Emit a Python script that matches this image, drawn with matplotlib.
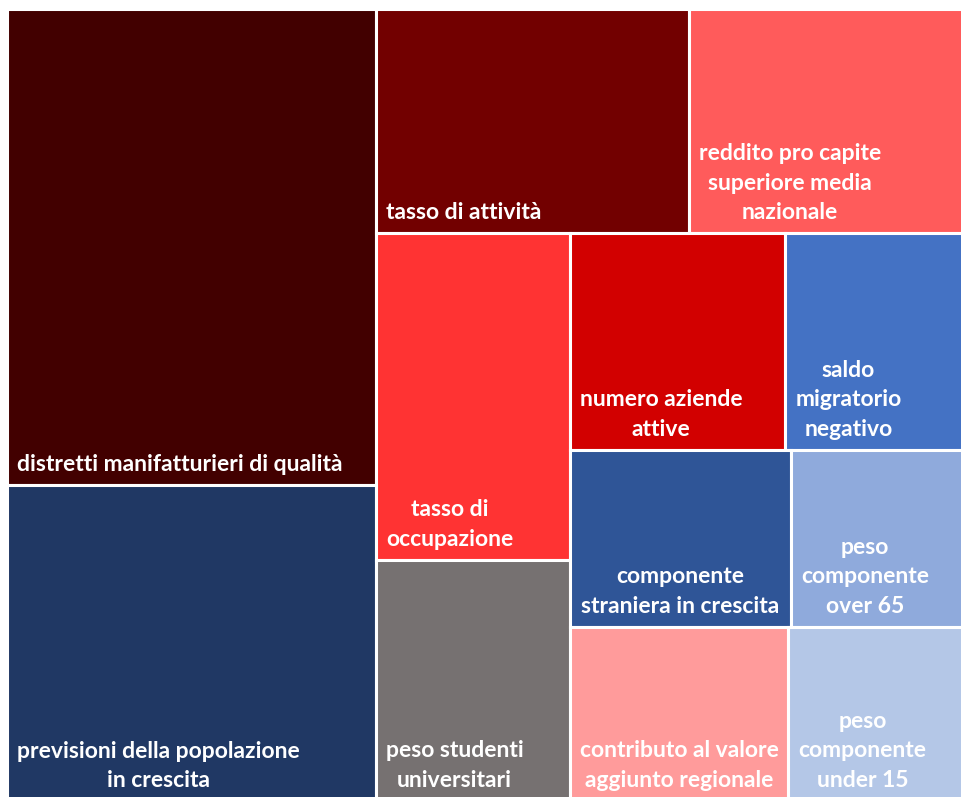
import matplotlib
matplotlib.use("Agg")
import matplotlib.pyplot as plt
from matplotlib.patches import Rectangle

# data (relative areas)
labels = [
    "distretti manifatturieri di qualità",
    "previsioni della popolazione\nin crescita",
    "tasso di attività",
    "reddito pro capite\nsuperiore media\nnazionale",
    "tasso di\noccupazione",
    "peso studenti\nuniversitari",
    "numero aziende\nattive",
    "saldo\nmigratorio\nnegativo",
    "componente\nstraniera in crescita",
    "peso\ncomponente\nover 65",
    "contributo al valore\naggiunto regionale",
    "peso\ncomponente\nunder 15",
]
values = [175, 116, 70, 61.5, 63, 46.5, 46.5, 38.5, 39, 30.5, 38, 30.5]
colors = ["#420000", "#203864", "#720000", "#FF5B5B", "#FF3333", "#767171",
          "#D20000", "#4472C4", "#2F5597", "#8FAADC", "#FF9B9B", "#B4C7E7"]
label_side = ["left"] * 12
label_side[8] = "right"

# nesting of the treemap: 'h' = side by side, 'v' = stacked
layout = ("h", [("v", [0, 1]),
                ("v", [("h", [2, 3]),
                       ("h", [("v", [4, 5]),
                              ("v", [("h", [6, 7]), ("h", [8, 9]), ("h", [10, 11])])])])])


def total(node):
    if isinstance(node, int):
        return values[node]
    return sum(total(c) for c in node[1])


def place(node, x, y, w, h, out):
    if isinstance(node, int):
        out[node] = (x, y, w, h)
        return
    direction, children = node
    s = total(node)
    for c in children:
        f = total(c) / s
        if direction == "h":
            place(c, x, y, w * f, h, out)
            x += w * f
        else:
            place(c, x, y, w, h * f, out)
            y += h * f


rects = {}
place(layout, 7, 9, 957, 792, rects)

fig = plt.figure(figsize=(9.61, 7.97), dpi=100)
ax = fig.add_axes([0, 0, 1, 1])
ax.set_xlim(0, 961)
ax.set_ylim(797, 0)
ax.axis("off")

pad = 10
for i in range(len(labels)):
    x, y, w, h = rects[i]
    ax.add_patch(Rectangle((x, y), w, h, facecolor=colors[i], edgecolor="white", linewidth=2.2))
    if label_side[i] == "right":
        tx, ha = x + w - pad - 2, "right"
    else:
        tx, ha = x + pad, "left"
    ax.text(tx, y + h - pad, labels[i], ha=ha, va="bottom", multialignment="center",
            color="white", fontsize=16.5, fontweight="bold", family="Lato", linespacing=1.5)

fig.savefig("out.png", dpi=100, facecolor="white")
